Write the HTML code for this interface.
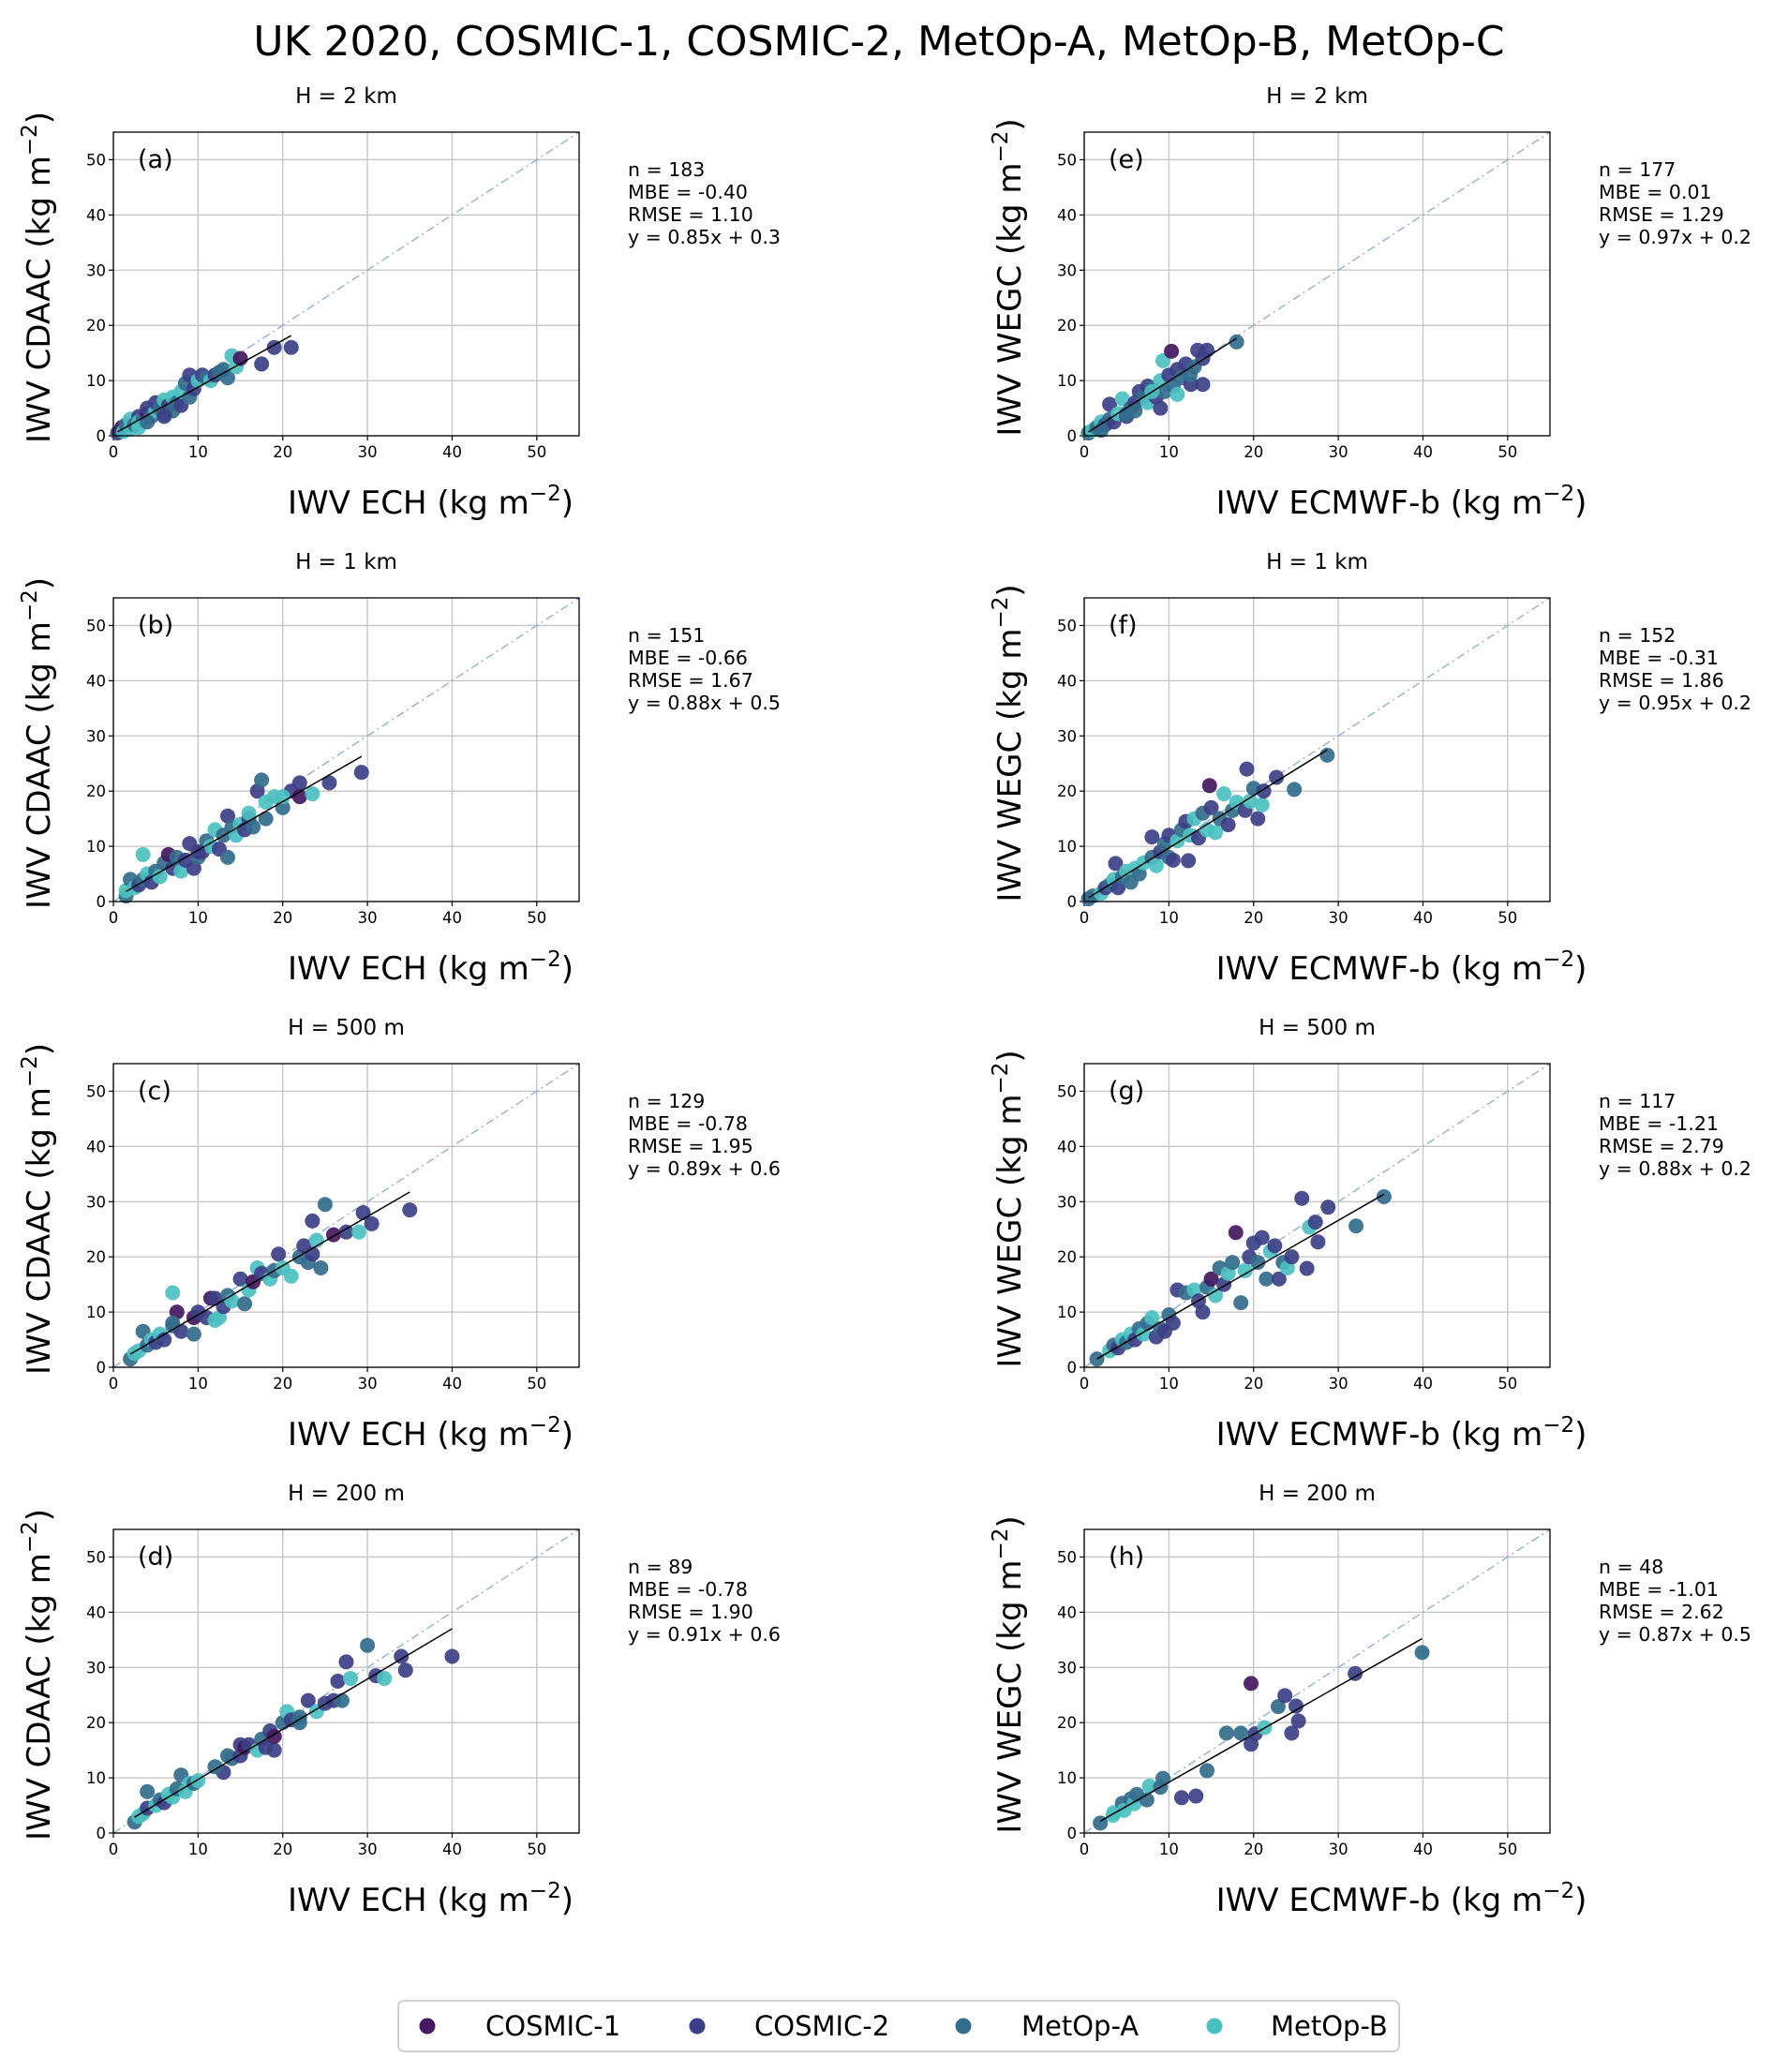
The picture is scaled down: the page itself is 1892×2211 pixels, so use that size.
<!DOCTYPE html>
<html><head><meta charset="utf-8">
<style>
html,body{margin:0;padding:0;background:#fff;}
svg{display:block;font-family:"DejaVu Sans","Liberation Sans",sans-serif;}
</style></head>
<body>
<svg id="fig" width="1892" height="2211" viewBox="0 0 1892 2211" xmlns="http://www.w3.org/2000/svg">
<rect width="1892" height="2211" fill="#fff"/>
<text x="938" y="59" font-size="44" text-anchor="middle" fill="#000">UK 2020, COSMIC-1, COSMIC-2, MetOp-A, MetOp-B, MetOp-C</text>
<g id="panels"></g>
<g>
<rect x="425" y="2135" width="1068" height="54" rx="6" fill="#fff" stroke="#d0d0d0" stroke-width="2"/>
<g><circle cx="456" cy="2162" r="8.5" fill="#45185f"/><text x="518" y="2172" font-size="29">COSMIC-1</text></g>
<g><circle cx="744" cy="2162" r="8.5" fill="#3c3f86"/><text x="805" y="2172" font-size="29">COSMIC-2</text></g>
<g><circle cx="1028" cy="2162" r="8.5" fill="#336d8c"/><text x="1090" y="2172" font-size="29">MetOp-A</text></g>
<g><circle cx="1296" cy="2162" r="8.5" fill="#4bc0c0"/><text x="1356" y="2172" font-size="29">MetOp-B</text></g>
</g>
</svg>
<script>
const seriesColors = ["#45185f","#3c3f86","#336d8c","#4bc0c0"];
const axisTicks = [0,10,20,30,40,50];
const panelLetters = ["a","b","c","d","e","f","g","h"];
const heightTitles = ["H = 2 km","H = 1 km","H = 500 m","H = 200 m","H = 2 km","H = 1 km","H = 500 m","H = 200 m"];
const statN = ["183","151","129","89","177","152","117","48"];
const statMBE = ["-0.40","-0.66","-0.78","-0.78","0.01","-0.31","-1.21","-1.01"];
const statRMSE = ["1.10","1.67","1.95","1.90","1.29","1.86","2.79","2.62"];
const fitSlope = [0.85,0.88,0.89,0.91,0.97,0.95,0.88,0.87];
const fitIntercept = [0.3,0.5,0.6,0.6,0.2,0.2,0.2,0.5];
const pointsA = [[0.5,0.5,1],[1,1.5,0],[1.2,0.8,3],[1.5,2,2],[2,1.2,3],[2,3,3],[2.5,2,2],[3,3.5,1],[3,2.5,3],[3.5,3,2],[4,4,0],[4,5,1],[4.5,3.5,2],[5,4.5,3],[5,6,1],[5.5,5,2],[6,4,2],[6,6.5,3],[6.5,5.5,1],[7,7,3],[7,4.5,2],[7.5,6,2],[8,5.5,1],[8,8,3],[8.5,9.5,2],[9,11,1],[9,7,2],[9.5,8.5,1],[10,10,3],[10.5,11,1],[11,10.5,2],[11.5,10,3],[12,11,1],[12.5,11.5,2],[13,12,2],[13.5,10.5,2],[14,14.5,3],[14.5,12.5,3],[15,14,0],[17.5,13,1],[19,16,1],[21,16,1],[3,1.5,3],[4,2.5,2],[6,3.5,1]];
const pointsB = [[1.5,1,2],[1.5,2,3],[2,4,2],[2.5,2.5,3],[3,3,1],[3.5,8.5,3],[3.5,4,2],[4,5,3],[4.5,3.5,1],[5,5.5,2],[5.5,4.5,3],[6,7,2],[6.5,8.5,0],[7,6,1],[7.5,8,2],[8,5.5,3],[8.5,7.5,1],[9,10.5,1],[9.5,6,1],[10,8,2],[10.5,9,1],[11,11,2],[11.5,10,3],[12,13,3],[12.5,9.5,1],[13,12,2],[13.5,8,2],[13.5,15.5,1],[14,13.5,2],[14.5,12,3],[15,14,3],[15.5,13,1],[16,15,1],[16.5,13.5,2],[17,20,1],[17.5,22,2],[18,18,3],[18,15,2],[19,19,3],[20,17,2],[21,20,1],[22,21.5,1],[22,19,0],[23.5,19.5,3],[25.5,21.5,1],[29.3,23.4,1],[20,19,3],[10,9,1],[16,16,3]];
const pointsC = [[2,1.5,2],[2.5,2.5,3],[3,3,3],[3.5,6.5,2],[4,4,2],[4.5,5,3],[5,4.5,1],[5.5,6,3],[6,5,1],[7,13.5,3],[7.5,10,0],[7,7.5,2],[8,6.5,1],[9.5,6,2],[9.5,9,0],[10,10,1],[11,9,1],[11.5,12.5,0],[12,8.5,3],[12.5,9,3],[12,12.5,1],[13,11,1],[13.5,13,2],[14,12,3],[15,16,1],[15.5,11.5,2],[16,14,3],[16.5,15.5,0],[17,18,3],[17.5,17,1],[18.5,16,3],[19,17.5,2],[19.5,20.5,1],[20,18,3],[21,16.5,3],[22,20,2],[22.5,22,1],[23,19,2],[23.5,26.5,1],[24,23,3],[24.5,18,2],[25,29.5,2],[26,24,0],[27.5,24.5,1],[29,24.5,3],[29.5,28,1],[30.5,26,1],[35,28.5,1],[23.5,20.5,1],[7,8,2]];
const pointsD = [[2.5,2,2],[3,3,3],[3.5,3.5,3],[4,4.5,1],[4,7.5,2],[5,5,3],[5.5,6,2],[6,5.5,1],[6.5,7,3],[7,6.5,3],[7.5,8,2],[8,10.5,2],[8.5,7.5,3],[9,9,3],[9.5,9,2],[13,11,1],[13.5,14,2],[14,13.5,2],[15,16,1],[15,14,1],[15.5,15.5,0],[16,16,1],[17,15,3],[17.5,17,2],[18,15.5,1],[18.5,18.5,1],[19,15,1],[19,17.5,0],[20,20,2],[20.5,22,3],[21,20.5,1],[22,21,2],[22,20,2],[23,24,1],[24,22,3],[25,23.5,1],[26,24,1],[26.5,27.5,1],[27,24,2],[28,28,3],[27.5,31,1],[30,34,2],[31,28.5,1],[32,28,3],[34,32,1],[34.5,29.5,1],[40,32,1],[10,9.5,3],[12,12,2]];
const pointsE = [[0.5,0.5,2],[1,1,3],[1.5,1.5,2],[2,2.5,3],[2.5,2,1],[3,3,2],[3,5.7,1],[3.5,2.5,1],[4,4,3],[4.5,6.7,3],[5,3.5,1],[5.5,5,2],[6,6,1],[6,4.5,2],[6.5,8,1],[7,7,2],[7.5,6,3],[7.5,9,1],[8,8.5,2],[8.5,7,1],[9,10,3],[9,5,1],[9.3,13.6,3],[9.5,8,2],[10,11,1],[10.3,15.3,0],[10.5,9,2],[11,12,1],[11,7.5,3],[11.5,10.5,2],[12,13,1],[12.6,9.3,1],[12.5,11,2],[13,12.5,2],[13.4,15.5,1],[14,14,1],[14,9.3,1],[14.5,15.5,1],[18,17,2],[2,1,2],[5,4,2],[8,8,3]];
const pointsF = [[0.5,0.5,2],[1,1,2],[2,1.5,3],[2.5,2.5,1],[3,3,2],[3.5,4,3],[3.7,6.9,1],[4,2.5,1],[4.5,4.5,2],[5,5.5,3],[5.5,3.5,2],[6,6,3],[6.5,5,2],[7,7,3],[8,11.7,1],[8,8,2],[8.5,6.5,3],[9,9,1],[9.5,10.5,2],[10,12,1],[10,8,2],[10.5,7.5,1],[11,11,3],[11.5,13,2],[12,14.5,1],[12.3,7.4,1],[12.5,12,3],[13,15,3],[13.5,11.5,1],[14,16,2],[14.5,13,3],[14.8,21,0],[15,17,1],[15.5,12.5,3],[16,15,2],[16.5,19.5,3],[17,13.9,1],[17.5,16.5,2],[18,18,3],[19,16.5,1],[19.2,24,1],[19.6,18.2,3],[20,20.5,2],[20.5,15,1],[21,17.5,3],[21.2,20,1],[22.7,22.5,1],[24.8,20.3,2],[28.7,26.5,2]];
const pointsG = [[1.5,1.5,2],[3,3,3],[3.5,4,2],[4,3.5,1],[4.5,5,3],[5,4.5,2],[5.5,6,3],[6,5,1],[6.5,7,2],[7,6,3],[7.5,8,2],[8,9,3],[8.5,5.5,1],[9,7,2],[9.5,6.5,1],[10,9.5,2],[10.5,8,1],[11,14,1],[12,13.5,2],[13,14,3],[13.5,12,1],[14,10,1],[14.5,14.5,2],[15,16,0],[15.5,13,3],[16,18,2],[16.5,15,1],[17,17,3],[17.5,19,2],[17.9,24.4,0],[18.5,11.7,2],[19,17.5,3],[19.5,20,1],[20,22.5,1],[20.5,19,2],[21,23.5,1],[21.5,16,2],[22,21,3],[22.5,22,1],[23,16,1],[23.5,19,2],[24,18,3],[24.5,20,1],[25.7,30.6,1],[26.3,17.9,1],[26.6,25.4,3],[27.3,26.3,1],[27.6,22.7,1],[28.8,29,1],[32.1,25.6,2],[35.4,30.9,2]];
const pointsH = [[1.9,1.8,2],[3.4,3.2,3],[3.5,3.7,3],[4.5,5.4,2],[4.7,4.1,3],[5.5,6.2,2],[5.9,5.3,3],[6.2,7,2],[7.4,6,2],[7.7,8.5,3],[9,8.3,2],[9.3,9.9,2],[11.5,6.4,1],[13.2,6.7,1],[14.5,11.3,2],[16.8,18.1,2],[18.5,18.1,2],[19.7,16.1,1],[19.7,27.1,0],[20.2,18,1],[21.3,19.1,3],[22.9,22.9,2],[23.7,24.9,1],[24.5,18.1,1],[25,23,1],[25.3,20.3,1],[32,28.9,1],[39.9,32.7,2]];
const allPoints = [pointsA,pointsB,pointsC,pointsD,pointsE,pointsF,pointsG,pointsH];

const NS = "http://www.w3.org/2000/svg";
const W = 497, H = 324, MAXV = 55;
const lefts = [121,1157], tops = [141,638,1135,1632];
function mk(tag, attrs, parent){ const e=document.createElementNS(NS,tag); for(const k in attrs) e.setAttribute(k,attrs[k]); parent.appendChild(e); return e; }
const root = document.getElementById("panels");
for(let p=0;p<8;p++){
  const col = p<4?0:1, row = p%4;
  const x0 = lefts[col], y0 = tops[row];
  const sx = v => x0 + v/MAXV*W;
  const sy = v => y0 + H - v/MAXV*H;
  const g = mk("g",{},root);
  
  
  for(const t of axisTicks){
    const gl = mk("line",{x1:sx(t),x2:sx(t),y1:y0,y2:y0+H,stroke:"#c4c4c4","stroke-width":1.3},g);
    
    
    const gh = mk("line",{x1:x0,x2:x0+W,y1:sy(t),y2:sy(t),stroke:"#c4c4c4","stroke-width":1.3},g);
    
    
    const tx = mk("line",{x1:sx(t),x2:sx(t),y1:y0+H,y2:y0+H+5,stroke:"#000","stroke-width":1.2},g);
    
    
    const ty = mk("line",{x1:x0-5,x2:x0,y1:sy(t),y2:sy(t),stroke:"#000","stroke-width":1.2},g);
    
    
    const lx = mk("text",{x:sx(t),y:y0+H+23,"font-size":16.5,"text-anchor":"middle"},g);
    lx.textContent = t;
    
    
    const ly = mk("text",{x:x0-8,y:sy(t)+6,"font-size":16.5,"text-anchor":"end"},g);
    ly.textContent = t;
    
    
  }
  const d = mk("line",{x1:sx(0),y1:sy(0),x2:sx(MAXV),y2:sy(MAXV),stroke:"#8fb3d0","stroke-width":1.4,"stroke-dasharray":"9,4,2,4"},g);
  
  
  const pts = allPoints[p];
  for(const pt of pts){
    const c = mk("circle",{cx:sx(pt[0]),cy:sy(pt[1]),r:8,fill:seriesColors[pt[2]],"fill-opacity":0.92},g);
    
    
  }
  let xmin=Infinity,xmax=-Infinity;
  for(const pt of pts){ xmin=Math.min(xmin,pt[0]); xmax=Math.max(xmax,pt[0]); }
  const rl = mk("line",{x1:sx(xmin),y1:sy(fitSlope[p]*xmin+fitIntercept[p]),x2:sx(xmax),y2:sy(fitSlope[p]*xmax+fitIntercept[p]),stroke:"#000","stroke-width":1.5},g);
  
  
  const fr = mk("rect",{x:x0,y:y0,width:W,height:H,fill:"none",stroke:"#000","stroke-width":1.3},g);
  
  
  const lt = mk("text",{x:x0+26,y:y0+38,"font-size":27},g);
  lt.textContent = "("+panelLetters[p]+")";
  
  
  const st = mk("text",{x:x0+W/2,y:y0-31,"font-size":23,"text-anchor":"middle"},g);
  st.textContent = heightTitles[p];
  
  
  const lines = ["n = "+statN[p],"MBE = "+statMBE[p],"RMSE = "+statRMSE[p],"y = "+fitSlope[p].toFixed(2)+"x + "+fitIntercept[p]];
  const sg = mk("g",{},g);
  
  
  lines.forEach((s,i)=>{ const t = mk("text",{x:x0+W+52,y:y0+47+i*24,"font-size":20.5},sg); t.textContent=s; });
  const xl = mk("text",{x:x0+W/2+90,y:y0+H+83,"font-size":34,"text-anchor":"middle"},g);
  
  
  xl.appendChild(document.createTextNode(col===0?"IWV ECH (kg m":"IWV ECMWF-b (kg m"));
  mk("tspan",{dy:-14,"font-size":23},xl).textContent="−2";
  mk("tspan",{dy:14},xl).textContent=")";
  const yx = x0-68, yy = y0+H/2-7;
  const yl = mk("text",{x:yx,y:yy,"font-size":34,"text-anchor":"middle",transform:"rotate(-90 "+yx+" "+yy+")"},g);
  
  
  yl.appendChild(document.createTextNode(col===0?"IWV CDAAC (kg m":"IWV WEGC (kg m"));
  mk("tspan",{dy:-14,"font-size":23},yl).textContent="−2";
  mk("tspan",{dy:14},yl).textContent=")";
}
</script>
</body></html>
